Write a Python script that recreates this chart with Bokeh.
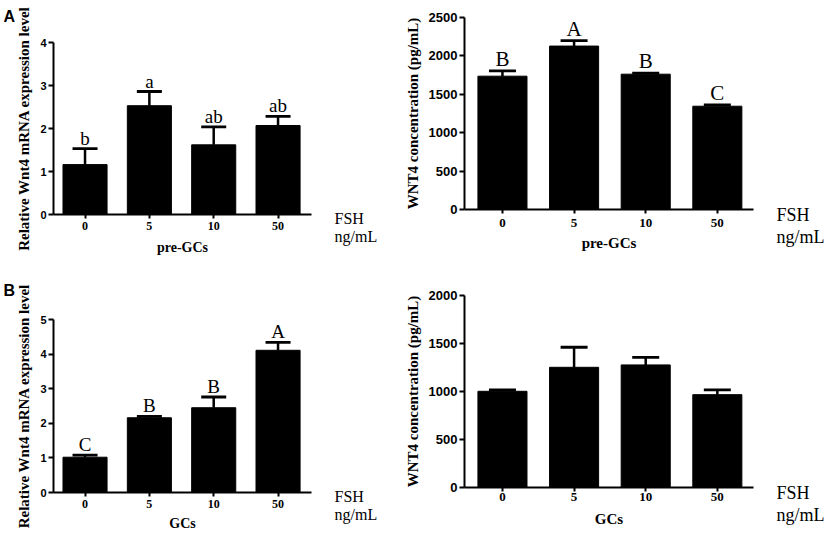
from bokeh.plotting import figure
from bokeh.models import (Range1d, FixedTicker, ColumnDataSource, Whisker, TeeHead,
                          LabelSet, Label)
from bokeh.layouts import column, row
from bokeh.core.properties import value
from bokeh.embed import file_html
from bokeh.resources import INLINE

# ---------------- data ----------------
categories = ["0", "5", "10", "50"]

pre_mrna_mean = [1.16, 2.53, 1.62, 2.07]
pre_mrna_sem = [0.37, 0.33, 0.42, 0.21]
pre_mrna_letters = ["b", "a", "ab", "ab"]

pre_wnt4_mean = [1736, 2128, 1762, 1345]
pre_wnt4_sem = [70, 72, 13, 17]
pre_wnt4_letters = ["B", "A", "B", "C"]

gc_mrna_mean = [1.02, 2.16, 2.45, 4.11]
gc_mrna_sem = [0.06, 0.04, 0.31, 0.23]
gc_mrna_letters = ["C", "B", "B", "A"]

gc_wnt4_mean = [1002, 1252, 1277, 967]
gc_wnt4_sem = [14, 209, 79, 49]
gc_wnt4_letters = ["", "", "", ""]

SERIF = "Liberation Serif"
SANS = "Liberation Sans"


def panel(means, sems, letters, ymax, ystep, ylabel, xlabel, width, height,
          borders, xr, small, std, panel_letter=None, letter_dy=0):
    bl, br, bt, bb = borders
    tick_sd, lab_sd, ylab_sd = std
    p = figure(width=width, height=height, output_backend="svg", toolbar_location=None,
               title=None, x_range=Range1d(*xr), y_range=Range1d(0, ymax),
               min_border_left=bl, min_border_right=br, min_border_top=bt,
               min_border_bottom=bb)
    p.background_fill_color = "white"
    p.border_fill_color = "white"
    p.outline_line_color = None
    p.xgrid.grid_line_color = None
    p.ygrid.grid_line_color = None

    xs = list(range(len(categories)))
    upper = [m + s for m, s in zip(means, sems)]
    src = ColumnDataSource(dict(x=xs, top=means, upper=upper, letter=letters))
    p.vbar(x="x", top="top", width=0.685, source=src, fill_color="black",
           line_color="black")

    cap = 25 if small else 27
    w = Whisker(base="x", upper="upper", lower="top", source=src, dimension="height",
                line_width=2.5, line_color="black",
                upper_head=TeeHead(size=cap, line_width=2.8, line_color="black"),
                lower_head=None)
    p.add_layout(w)

    ls = LabelSet(x="x", y="upper", text="letter", source=src, text_align="center",
                  text_baseline="alphabetic", y_offset=4 if small else 5,
                  text_font=value(SERIF), text_font_size=value("19px" if small else "21px"),
                  text_color="black")
    p.add_layout(ls)

    for ax in (p.xaxis[0], p.yaxis[0]):
        ax.axis_line_width = 2
        ax.axis_line_color = "black"
        ax.major_tick_line_width = 2
        ax.major_tick_line_color = "black"
        ax.major_tick_in = 0
        ax.minor_tick_line_color = None
        ax.major_label_text_color = "black"
        ax.axis_label_text_color = "black"
        ax.axis_label_text_font = SERIF
        ax.axis_label_text_font_style = "bold"

    xa = p.xaxis[0]
    xa.ticker = FixedTicker(ticks=xs)
    xa.major_label_overrides = {i: c for i, c in enumerate(categories)}
    xa.major_tick_out = 4
    xa.major_label_standoff = tick_sd
    xa.major_label_text_font = SERIF
    xa.major_label_text_font_style = "bold"
    xa.major_label_text_font_size = "12px" if small else "13px"
    xa.axis_label = xlabel
    xa.axis_label_text_font_size = "14px" if small else "15px"
    xa.axis_label_standoff = lab_sd

    ya = p.yaxis[0]
    ya.ticker = FixedTicker(ticks=list(range(0, ymax + 1, ystep)))
    ya.major_tick_out = 5
    ya.major_label_standoff = 2
    ya.major_label_text_font = SANS
    ya.major_label_text_font_style = "bold"
    ya.major_label_text_font_size = "11px" if small else "13px"
    ya.axis_label = ylabel
    ya.axis_label_text_font_size = "15px"
    ya.axis_label_standoff = ylab_sd

    p.add_layout(Label(x=xr[1], y=0, x_offset=23, y_offset=5, text="FSH\nng/mL",
                       text_font=SERIF, text_font_size="16px" if small else "18px",
                       text_align="left", text_baseline="top", text_line_height=1.1,
                       text_color="black"), "right")
    if panel_letter is not None:
        p.add_layout(Label(x=xr[0], y=ymax, x_offset=3 - bl, y_offset=letter_dy,
                           text=panel_letter, text_font=SANS, text_font_style="bold",
                           text_font_size="16px", text_align="left",
                           text_baseline="alphabetic", text_color="black"), "right")
    return p


tl = panel(pre_mrna_mean, pre_mrna_sem, pre_mrna_letters, 4, 1,
           "Relative Wnt4 mRNA expression level", "pre-GCs",
           395, 272, (53, 84, 42, 58), (-0.49, 3.52), True, (3, 7, 5), "A", 26)
tr = panel(pre_wnt4_mean, pre_wnt4_sem, pre_wnt4_letters, 2500, 500,
           "WNT4 concentration (pg/mL)", "pre-GCs",
           432, 272, (69, 74, 17, 63), (-0.53, 3.505), False, (5, 5, 5))
bl = panel(gc_mrna_mean, gc_mrna_sem, gc_mrna_letters, 5, 1,
           "Relative Wnt4 mRNA expression level", "GCs",
           395, 265, (53, 84, 47, 45), (-0.49, 3.52), True, (3, 5, 5), "B", 29)
br = panel(gc_wnt4_mean, gc_wnt4_sem, gc_wnt4_letters, 2000, 500,
           "WNT4 concentration (pg/mL)", "GCs",
           432, 265, (69, 74, 23, 50), (-0.53, 3.505), False, (1, 7, 5))

layout = row(column(tl, bl, spacing=0), column(tr, br, spacing=0), spacing=0)

open("out.html", "w").write(file_html(layout, INLINE))
